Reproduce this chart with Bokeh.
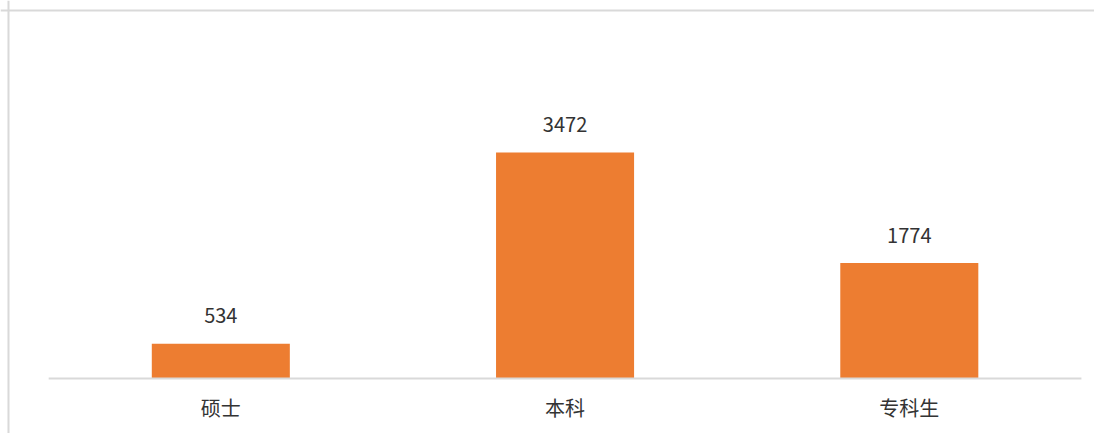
from bokeh.plotting import figure
from bokeh.models import ColumnDataSource, Range1d, Span
from bokeh.core.properties import value
from bokeh.embed import file_html
from bokeh.resources import INLINE

categories = ["硕士", "本科", "专科生"]
counts = [534, 3472, 1774]

W, H = 1094, 433
positions = [i + 0.5 for i in range(len(categories))]
labels = [str(v) for v in counts]

src = ColumnDataSource(dict(x=positions, top=counts, cat=categories, label=labels,
                            zero=[0] * len(counts)))

p = figure(width=W, height=H, output_backend="svg", toolbar_location=None,
           x_range=Range1d(-0.140, 3.038), y_range=Range1d(-845, 5807),
           min_border_left=0, min_border_right=0, min_border_top=0, min_border_bottom=0)
p.xaxis.visible = False
p.yaxis.visible = False
p.xgrid.visible = False
p.ygrid.visible = False
p.outline_line_color = None
p.background_fill_color = "white"
p.border_fill_color = "white"

# chart-area border (top and left visible in the reference)
p.add_layout(Span(location=5653, dimension="width", line_color="#d9d9d9", line_width=2))
p.add_layout(Span(location=-0.1168, dimension="height", line_color="#d9d9d9", line_width=2))

p.vbar(x="x", top="top", bottom=0, width=0.401, source=src,
       fill_color="#ED7D31", line_color=None)

# category baseline
p.line(x=[0, len(categories)], y=[0, 0], line_color="#d9d9d9", line_width=2)

p.text(x="x", y="top", text="label", source=src, text_align="center",
       text_baseline="middle", y_offset=-28, text_font=value("Noto Sans CJK SC"),
       text_font_size="20px", text_color="#333333")

p.text(x="x", y="zero", text="cat", source=src, text_align="center",
       text_baseline="middle", y_offset=29, text_font=value("Noto Sans CJK SC"),
       text_font_size="20px", text_color="#333333")

open("out.html", "w").write(file_html(p, INLINE))
